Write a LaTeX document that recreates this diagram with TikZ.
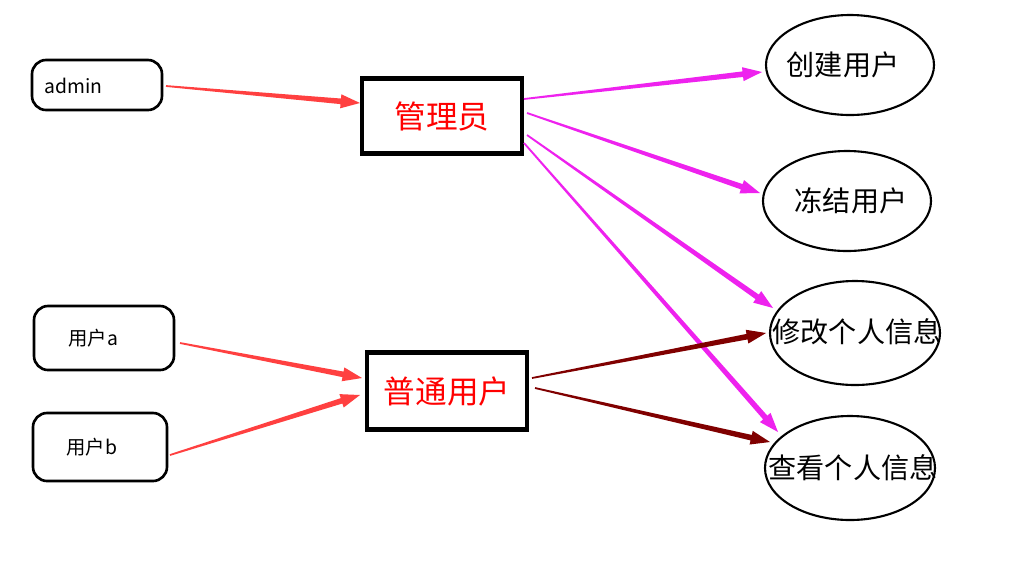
\documentclass[tikz,border=0pt]{standalone}
\usepackage{fontspec}
\setmainfont{Noto Sans CJK SC}
\usetikzlibrary{calc,shapes.geometric}
\definecolor{ared}{HTML}{FF4040}
\definecolor{amag}{HTML}{EE22EE}
\definecolor{adark}{HTML}{800000}
\newcommand\tarrow[3]{%
  \fill[#3] ($(#1)!0.5pt!90:(#2)$) -- ($($(#2)!11pt!(#1)$)!1.6pt!-90:(#1)$) -- ($($(#2)!11pt!(#1)$)!4pt!-90:(#1)$) -- (#2)
  -- ($($(#2)!11pt!(#1)$)!4pt!90:(#1)$) -- ($($(#2)!11pt!(#1)$)!1.6pt!90:(#1)$) -- ($(#1)!0.5pt!-90:(#2)$) -- cycle;}
\begin{document}
\begin{tikzpicture}[x=0.02cm,y=-0.02cm,
  src/.style={draw,line width=1.5pt,rounded corners=8pt},
  srct/.style={font=\fontsize{11}{13}\selectfont,anchor=west,inner sep=0pt},
  role/.style={draw,line width=2.5pt,font=\fontsize{18}{20}\selectfont,text=red},
  uc/.style={draw,ellipse,line width=1.2pt,inner sep=0pt},
  uct/.style={font=\fontsize{16}{19}\selectfont}]
\useasboundingbox (0,0) rectangle (1014,569);
\node[src,minimum width=130*0.02cm,minimum height=50*0.02cm] (admin) at (97,85) {};
\node[srct] (admint) at (44,86) {admin};
\node[src,minimum width=140*0.02cm,minimum height=64*0.02cm] (ua) at (104,338) {};
\node[srct] (uat) at (68,338) {用户a};
\node[src,minimum width=134*0.02cm,minimum height=68*0.02cm] (ub) at (100,447) {};
\node[srct] (ubt) at (66,447) {用户b};
\node[role,minimum width=160*0.02cm,minimum height=75*0.02cm] (gl) at (442,116) {管理员};
\node[role,minimum width=160*0.02cm,minimum height=77*0.02cm] (pt) at (447,391) {普通用户};
\node[uc,minimum width=168*0.02cm,minimum height=100*0.02cm] (cj) at (850,65) {};
\node[uct] (cjt) at (843,65) {创建用户};
\node[uc,minimum width=168*0.02cm,minimum height=100*0.02cm] (dj) at (847,201) {};
\node[uct] (djt) at (851,201) {冻结用户};
\node[uc,minimum width=170*0.02cm,minimum height=104*0.02cm] (xg) at (855,333) {};
\node[uct] (xgt) at (857,332) {修改个人信息};
\node[uc,minimum width=170*0.02cm,minimum height=104*0.02cm] (ck) at (850,468) {};
\node[uct] (ckt) at (853,468) {查看个人信息};
\coordinate (a1) at (166,86); \coordinate (a2) at (360,103);
\coordinate (g1) at (524,99); \coordinate (g1e) at (762,72);
\coordinate (g2) at (527,113); \coordinate (g2e) at (760,193);
\coordinate (g3) at (527,135); \coordinate (g3e) at (773,308);
\coordinate (g4) at (524,143); \coordinate (g4e) at (778,432);
\coordinate (u1) at (180,343); \coordinate (u1e) at (362,378);
\coordinate (u2) at (170,455); \coordinate (u2e) at (360,395);
\coordinate (p1) at (532,378); \coordinate (p1e) at (766,333);
\coordinate (p2) at (535,388); \coordinate (p2e) at (770,442);
\tarrow{a1}{a2}{ared}
\tarrow{g1}{g1e}{amag}
\tarrow{g2}{g2e}{amag}
\tarrow{g3}{g3e}{amag}
\tarrow{g4}{g4e}{amag}
\tarrow{u1}{u1e}{ared}
\tarrow{u2}{u2e}{ared}
\tarrow{p1}{p1e}{adark}
\tarrow{p2}{p2e}{adark}
\end{tikzpicture}
\end{document}
